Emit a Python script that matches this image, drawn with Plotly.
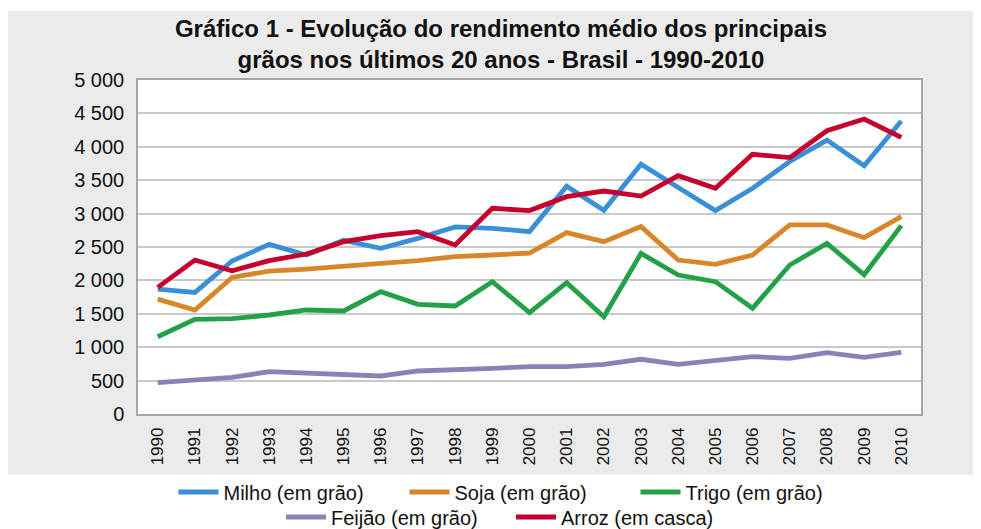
import plotly.graph_objects as go

years = list(range(1990, 2011))
milho = [1870, 1820, 2290, 2540, 2380, 2600, 2480, 2630, 2800, 2780, 2730,
         3410, 3050, 3740, 3390, 3045, 3380, 3780, 4100, 3715, 4385]
soja = [1720, 1557, 2045, 2140, 2170, 2205, 2255, 2295, 2355, 2380, 2410,
        2715, 2580, 2805, 2305, 2240, 2380, 2830, 2830, 2640, 2955]
trigo = [1157, 1417, 1427, 1482, 1557, 1542, 1831, 1642, 1617, 1981, 1517,
         1966, 1457, 2405, 2080, 1981, 1582, 2230, 2555, 2085, 2820]
feijao = [470, 509, 549, 633, 609, 584, 569, 644, 659, 684, 708,
          710, 744, 819, 744, 808, 858, 834, 918, 849, 923]
arroz = [1896, 2305, 2145, 2295, 2395, 2580, 2670, 2730, 2530, 3080, 3045,
         3253, 3338, 3263, 3568, 3378, 3888, 3838, 4241, 4416, 4142]

series_names = ["Milho (em grão)", "Soja (em grão)", "Trigo (em grão)",
                "Feijão (em grão)", "Arroz (em casca)"]
series_values = [milho, soja, trigo, feijao, arroz]
colors = ["#3a8fd6", "#d8862a", "#24a048", "#8e80b7", "#c5002d"]
legend_ids = ["legend", "legend", "legend", "legend2", "legend2"]

y_ticks = [0, 500, 1000, 1500, 2000, 2500, 3000, 3500, 4000, 4500, 5000]
y_ticktext = ["0", "500", "1 000", "1 500", "2 000", "2 500", "3 000",
              "3 500", "4 000", "4 500", "5 000"]

fig = go.Figure()
for name, vals, col, lg in zip(series_names, series_values, colors, legend_ids):
    fig.add_trace(go.Scatter(x=years, y=vals, name=name, mode="lines",
                             line=dict(color=col, width=4.8), legend=lg))

# The page places the figure 8px from the top-left corner of the window,
# so figure-pixel positions are the target screen positions minus 8.
OFF = 8
W, H = 981 - OFF, 529 - OFF
pl, pr, pt, pb = 138 - OFF, 920.7 - OFF, 80 - OFF, 414.3 - OFF
pw, ph = pr - pl, pb - pt

def px2x(px):
    return (px - OFF - pl) / pw

def py2y(py):
    return (pb - (py - OFF)) / ph

legend_font = dict(family="Liberation Sans, Arial, sans-serif", size=20, color="#111111")

fig.update_layout(
    width=W, height=H,
    margin=dict(l=pl, r=W - pr, t=pt, b=H - pb, pad=0, autoexpand=False),
    paper_bgcolor="#ebebeb",
    plot_bgcolor="white",
    font=dict(family="Liberation Sans, Arial, sans-serif", color="#111111"),
    title=dict(
        text="Gráfico 1 - Evolução do rendimento médio dos principais<br>grãos nos últimos 20 anos - Brasil - 1990-2010",
        font=dict(family="Liberation Sans, Arial", size=24, color="#111111", weight="bold"),
        x=(501 - OFF) / W, xanchor="center", xref="container",
        y=1 - (37 - OFF) / H, yanchor="middle", yref="container",
    ),
    xaxis=dict(
        range=[1989.47, 2010.53],
        tickvals=years, ticktext=[str(y) for y in years],
        tickangle=-90, tickfont=dict(size=17, color="#111111"),
        showgrid=False, zeroline=False,
        showline=True, linecolor="#a6a6a6", linewidth=1.5, mirror=True,
        ticks="outside", ticklen=5, tickcolor="rgba(0,0,0,0)",
    ),
    yaxis=dict(
        range=[0, 5000],
        tickvals=y_ticks, ticktext=y_ticktext,
        tickfont=dict(size=20, color="#111111"),
        showgrid=True, gridcolor="#c8c8c8", gridwidth=1.5,
        zeroline=False,
        showline=True, linecolor="#a6a6a6", linewidth=1.5, mirror=True,
        ticks="outside", ticklen=8, tickcolor="rgba(0,0,0,0)",
    ),
    legend=dict(
        orientation="h", xref="container", x=(520 - OFF) / W, xanchor="center",
        yref="container", y=1 - (492 - OFF) / H, yanchor="middle",
        font=legend_font,
        bgcolor="rgba(0,0,0,0)", itemwidth=40, entrywidth=176,
        traceorder="normal",
    ),
    legend2=dict(
        orientation="h", xref="container", x=(511 - OFF) / W, xanchor="center",
        yref="container", y=1 - (517 - OFF) / H, yanchor="middle",
        font=legend_font,
        bgcolor="rgba(0,0,0,0)", itemwidth=40, entrywidth=175,
        traceorder="normal",
    ),
    shapes=[
        dict(type="rect", xref="paper", yref="paper", layer="below",
             x0=px2x(-20), x1=px2x(1000), y0=py2y(560), y1=py2y(475),
             fillcolor="white", line=dict(width=0)),
        dict(type="rect", xref="paper", yref="paper", layer="below",
             x0=px2x(-20), x1=px2x(1000), y0=py2y(11), y1=py2y(-20),
             fillcolor="white", line=dict(width=0)),
    ],
)

fig.write_html("out.html")
